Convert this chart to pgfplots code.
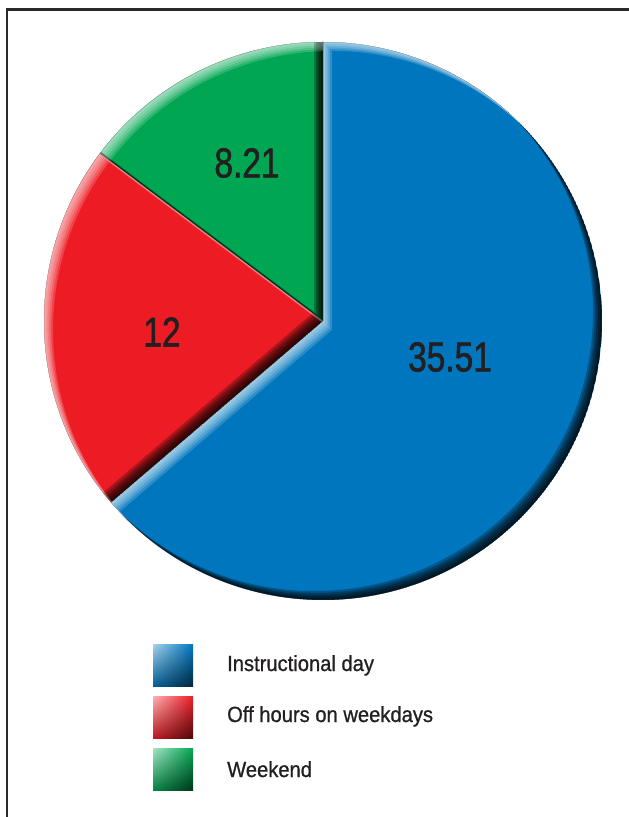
\documentclass[border=0pt]{standalone}
\usepackage{pgfplots}
\pgfplotsset{compat=1.18}
\usepackage{pgfplotstable}
\usetikzlibrary{shadings}
\usepackage{fontspec}
\setmainfont{Liberation Sans}
\newfontfamily\legfont{Liberation Sans}[FakeStretch=0.92, FakeBold=0.9]
\newfontfamily\numfont{Liberation Sans}[FakeStretch=0.80, FakeBold=1.3]
\definecolor{pieblue}{RGB}{0,118,190}
\definecolor{piered}{RGB}{237,28,36}
\definecolor{piegreen}{RGB}{0,166,81}
\definecolor{txt}{RGB}{35,31,32}
\definecolor{framec}{RGB}{42,42,42}

\pgfplotstableread{
category value
Instructional 35.51
OffHours 12
Weekend 8.21
}\piedata

% slice path: start angle, end angle, x shift, y shift
\newcommand\slc[4]{([xshift=#3bp,yshift=#4bp]323,496) -- ++(#1:279bp) arc[start angle=#1, end angle=#2, radius=279bp] -- cycle}
\newcommand\bevel[3]{%
  \begin{scope}
  \clip \slc{#1}{#2}{0}{0};
  \fill[black,opacity=.27,even odd rule] \slc{#1}{#2}{0}{0} \slc{#1}{#2}{-#3}{#3};
  \fill[white,opacity=.17,even odd rule] \slc{#1}{#2}{0}{0} \slc{#1}{#2}{#3}{-#3};
  \end{scope}}
\newcommand\bevelall[2]{\bevel{#1}{#2}{1.8}\bevel{#1}{#2}{3.6}\bevel{#1}{#2}{5.4}\bevel{#1}{#2}{7.2}\bevel{#1}{#2}{9}}

\begin{document}
\begin{tikzpicture}
\pgfplotstablegetelem{0}{value}\of\piedata \let\va\pgfplotsretval
\pgfplotstablegetelem{1}{value}\of\piedata \let\vb\pgfplotsretval
\pgfplotstablegetelem{2}{value}\of\piedata \let\vc\pgfplotsretval
\pgfmathsetmacro\tot{\va+\vb+\vc}
\pgfmathsetmacro\angB{90-360*\va/\tot}
\pgfmathsetmacro\angR{\angB-360*\vb/\tot}
\pgfmathsetmacro\angG{\angR-360*\vc/\tot}
\useasboundingbox (0,0) rectangle (629bp,817bp);
\begin{axis}[x=1bp, y=1bp, xmin=0, xmax=629, ymin=0, ymax=817,
  hide axis, clip=false, scale only axis, anchor=south west, at={(0,0)}]
% slices
\addplot[fill=pieblue, draw=none, domain=\angB:90, samples=180, variable=\t]
  ({323+279*cos(\t)},{496+279*sin(\t)}) -- (323,496) -- cycle;
\addplot[fill=piered, draw=none, domain=\angR:\angB, samples=80, variable=\t]
  ({323+279*cos(\t)},{496+279*sin(\t)}) -- (323,496) -- cycle;
\addplot[fill=piegreen, draw=none, domain=\angG:\angR, samples=60, variable=\t]
  ({323+279*cos(\t)},{496+279*sin(\t)}) -- (323,496) -- cycle;
% bevel
\bevelall{\angB}{90}
\bevelall{\angR}{\angB}
\bevelall{\angG}{\angR}
% value labels
\node[font=\numfont\fontsize{42}{48}\selectfont, text=txt, inner sep=0] at (450,460) {35.51};
\node[font=\numfont\fontsize{42}{48}\selectfont, text=txt, inner sep=0] at (162,485) {12};
\node[font=\numfont\fontsize{42}{48}\selectfont, text=txt, inner sep=0] at (247,654) {8.21};
% legend
\shade[upper left=pieblue!35!white, upper right=pieblue, lower left=pieblue!80!black, lower right=pieblue!30!black] (153,130) rectangle (193,172);
\shade[upper left=piered!35!white, upper right=piered, lower left=piered!80!black, lower right=piered!30!black] (153,78) rectangle (193,120);
\shade[upper left=piegreen!35!white, upper right=piegreen, lower left=piegreen!80!black, lower right=piegreen!30!black] (153,26) rectangle (193,68);
\node[anchor=base west, font=\legfont\fontsize{22}{26}\selectfont, text=txt, inner sep=0] at (227,146) {Instructional day};
\node[anchor=base west, font=\legfont\fontsize{22}{26}\selectfont, text=txt, inner sep=0] at (227,95) {Off hours on weekdays};
\node[anchor=base west, font=\legfont\fontsize{22}{26}\selectfont, text=txt, inner sep=0] at (227,40) {Weekend};
% frame
\draw[framec, line width=2.4bp] (7,0) -- (7,807.3) -- (629,807.3);
\end{axis}
\end{tikzpicture}
\end{document}
